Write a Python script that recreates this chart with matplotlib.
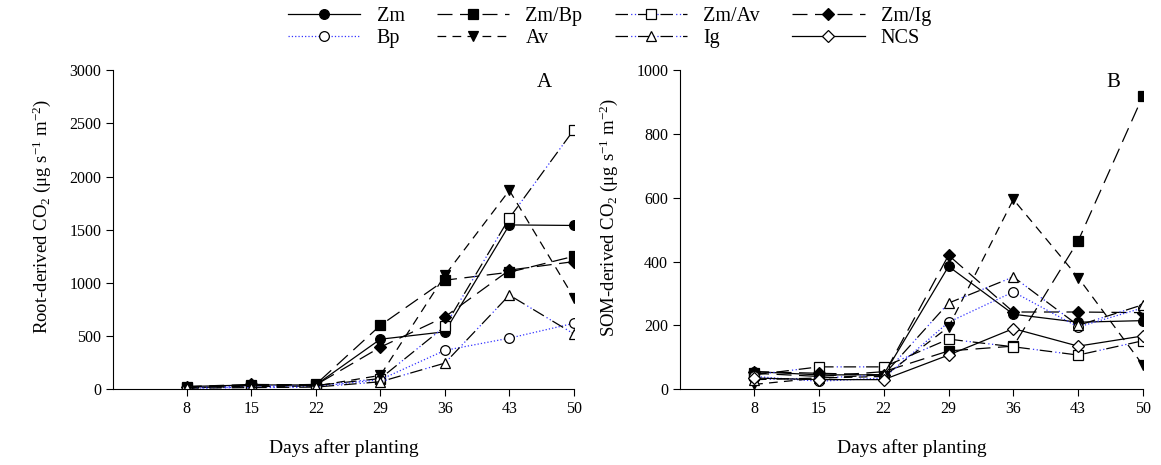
import matplotlib.pyplot as plt
from matplotlib.lines import Line2D

plt.rcParams['font.family'] = ['Liberation Serif', 'DejaVu Serif']
plt.rcParams['mathtext.fontset'] = 'custom'
plt.rcParams['mathtext.rm'] = 'Liberation Serif'
plt.rcParams['mathtext.it'] = 'Liberation Serif:italic'

days = [8, 15, 22, 29, 36, 43, 50]

# panel A: root-derived CO2
root_zm = [25, 40, 40, 470, 540, 1545, 1540]
root_zm_bp = [20, 35, 45, 600, 1025, 1100, 1250]
root_zm_av = [15, 30, 35, 100, 590, 1610, 2440]
root_zm_ig = [25, 45, 40, 395, 680, 1120, 1200]
root_bp = [10, 20, 25, 90, 365, 480, 620]
root_av = [15, 25, 30, 130, 1070, 1870, 860]
root_ig = [10, 15, 20, 70, 245, 885, 520]

# panel B: SOM-derived CO2
som_zm = [55, 45, 45, 385, 235, 210, 215]
som_zm_bp = [50, 40, 55, 120, 135, 465, 920]
som_zm_av = [45, 70, 70, 157, 133, 107, 152]
som_zm_ig = [55, 50, 45, 420, 242, 242, 240]
som_bp = [40, 25, 35, 210, 305, 195, 255]
som_av = [15, 35, 40, 195, 595, 350, 75]
som_ig = [30, 35, 45, 270, 352, 200, 265]
som_ncs = [35, 30, 30, 107, 190, 135, 167]

BLUE = '#3333ff'
# 'dots' = extra blue dots drawn in the gaps of the black dashes
styles = {
    'Zm': dict(ls='-', marker='o', mfc='black'),
    'Zm/Bp': dict(ls=(0, (12, 6)), marker='s', mfc='black'),
    'Zm/Av': dict(ls=(0, (10, 8)), marker='s', mfc='white', dots=True),
    'Zm/Ig': dict(ls=(0, (12, 6)), marker='D', mfc='black'),
    'Bp': dict(ls=':', marker='o', mfc='white', color=BLUE),
    'Av': dict(ls=(0, (7, 5)), marker='v', mfc='black'),
    'Ig': dict(ls=(0, (10, 8)), marker='^', mfc='white', dots=True),
    'NCS': dict(ls='-', marker='D', mfc='white'),
}
DOTS = (5.5, (1, 2, 1, 14))


def draw(ax, name, vals):
    st = dict(styles[name])
    col = st.pop('color', 'black')
    dots = st.pop('dots', False)
    ms = 6 if st['marker'] == 'D' else 7
    if dots:
        ax.plot(days, vals, color=BLUE, lw=0.9, ls=DOTS)
    ax.plot(days, vals, color=col, lw=0.9, ms=ms, mec='black', mew=0.9, **st)


fig = plt.figure(figsize=(11.61, 4.65), dpi=100)
axA = fig.add_axes([0.0973, 0.163, 0.397, 0.686])
axB = fig.add_axes([0.5857, 0.163, 0.3988, 0.686])

for name, vals in [('Zm', root_zm), ('Zm/Bp', root_zm_bp), ('Zm/Av', root_zm_av),
                   ('Zm/Ig', root_zm_ig), ('Bp', root_bp), ('Av', root_av), ('Ig', root_ig)]:
    draw(axA, name, vals)

for name, vals in [('Zm', som_zm), ('Zm/Bp', som_zm_bp), ('Zm/Av', som_zm_av),
                   ('Zm/Ig', som_zm_ig), ('Bp', som_bp), ('Av', som_av), ('Ig', som_ig),
                   ('NCS', som_ncs)]:
    draw(axB, name, vals)

for ax in (axA, axB):
    ax.set_xlim(0, 50)
    ax.set_xticks(days)
    ax.spines['top'].set_visible(False)
    ax.spines['right'].set_visible(False)
    ax.tick_params(direction='out', labelsize=11.5, length=5)
    ax.set_xlabel('Days after planting', fontsize=14, labelpad=16)

axA.set_ylim(0, 3000)
axA.set_yticks(range(0, 3001, 500))
axA.set_ylabel('Root-derived CO$_2$ (μg s$^{-1}$ m$^{-2}$)', fontsize=13.5)
axA.yaxis.set_label_coords(-0.13, 0.54)
axA.text(0.92, 0.99, 'A', transform=axA.transAxes, fontsize=15, va='top')

axB.set_ylim(0, 1000)
axB.set_yticks(range(0, 1001, 200))
axB.set_ylabel('SOM-derived CO$_2$ (μg s$^{-1}$ m$^{-2}$)', fontsize=13.5)
axB.yaxis.set_label_coords(-0.13, 0.54)
axB.text(0.92, 0.99, 'B', transform=axB.transAxes, fontsize=15, va='top')

order = ['Zm', 'Bp', 'Zm/Bp', 'Av', 'Zm/Av', 'Ig', 'Zm/Ig', 'NCS']
handles = []
for name in order:
    st = dict(styles[name])
    col = st.pop('color', 'black')
    dots = st.pop('dots', False)
    ms = 6 if st['marker'] == 'D' else 7
    h = Line2D([], [], color=col, lw=0.9, ms=ms, mec='black', mew=0.9, label=name, **st)
    if dots:
        h = (Line2D([], [], color=BLUE, lw=0.9, ls=DOTS), h)
    handles.append(h)
fig.legend(handles=handles, labels=order, ncol=4, loc='upper center',
           bbox_to_anchor=(0.525, 1.025), frameon=False, fontsize=14.5,
           handlelength=3.6, columnspacing=1.6, labelspacing=0.15, handletextpad=0.8)

plt.savefig('out.png', dpi=100)
